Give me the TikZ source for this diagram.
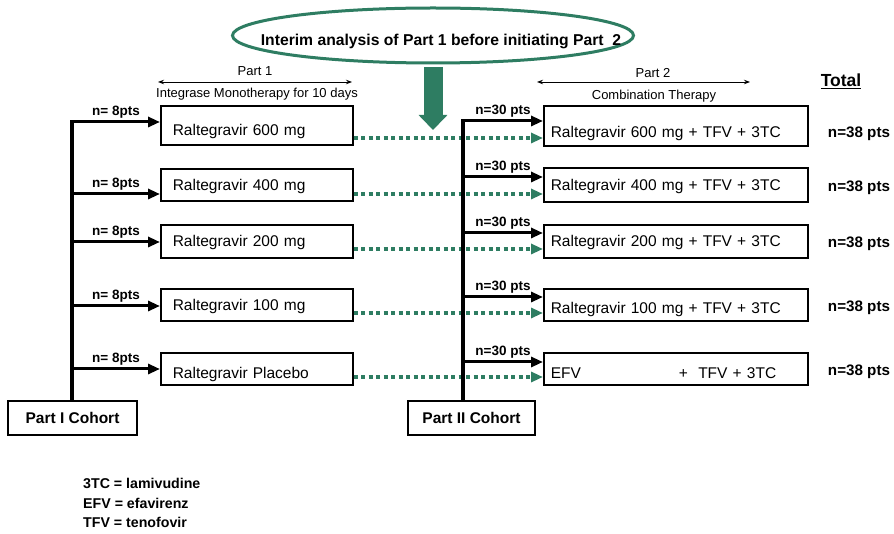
\documentclass[tikz,border=0pt]{standalone}
\usepackage{fontspec}
\setmainfont{Liberation Sans}
\usetikzlibrary{arrows.meta,shapes.geometric}
\definecolor{interimgreen}{RGB}{46,125,98}

\begin{document}
\begin{tikzpicture}
        [x=1pt,y=-1pt,
        boxdecorate/.style={draw,line width=1.5pt,anchor=base west,inner ysep=0pt,align=left,font=\fontsize{15.5}{18}\selectfont},
        leftbox/.style={boxdecorate,inner xsep=12pt,text width=168pt},
        rightbox/.style={boxdecorate,inner xsep=7pt,text width=250pt},
        cohortdecorate/.style={draw,line width=1.5pt,minimum width=129pt,minimum height=34pt,font=\bfseries\fontsize{15.5}{18}\selectfont},
        armdecorate/.style={-{Triangle[length=12pt,width=10pt]},line width=3pt},
        dotdecorate/.style={-{Triangle[length=12pt,width=10pt]},line width=3.5pt,interimgreen,dash pattern=on 4pt off 3.5pt},
        trunkdecorate/.style={line width=4pt},
        spandecorate/.style={{Stealth[length=6pt,width=4.5pt]}-{Stealth[length=6pt,width=4.5pt]},line width=0.9pt},
        countdecorate/.style={font=\bfseries\fontsize{13.5}{16}\selectfont,inner sep=0pt,above=2.5pt},
        headdecorate/.style={font=\fontsize{13}{15}\selectfont}]
        \useasboundingbox (0,0) rectangle (894,534);
        %% interim analysis
        \node (interim) at (433,35.5) [ellipse,draw=interimgreen,line width=3pt,minimum width=401pt,minimum height=55pt,
          inner xsep=-55pt,text height=24pt,text depth=3.5pt,font=\bfseries\fontsize{15.7}{19}\selectfont]
          {\hspace*{16pt}Interim analysis of Part 1 before initiating Part\ \ 2};
        \coordinate (droplevel) at (0,130);
        \draw[interimgreen,line width=19pt,-{Triangle[length=15pt,width=28pt]}]
          ([yshift=-2.5pt]interim.south) -- (interim.south |- droplevel);

        %% headings
        \coordinate (spanIa) at (158,82);
        \coordinate (spanIb) at (352,82);
        \coordinate (spanIIa) at (537,82);
        \coordinate (spanIIb) at (750,82);
        \draw[spandecorate] (spanIa) -- (spanIb);
        \draw[spandecorate] (spanIIa) -- (spanIIb);
        \node (part1) at (255,71) [headdecorate] {Part 1};
        \node (mono) at (257,94) [headdecorate] {Integrase Monotherapy for 10 days};
        \node (part2) at (653,73) [headdecorate] {Part 2};
        \node (combo) at (654,96) [headdecorate] {Combination Therapy};
        \node (total) at (841,87) [anchor=base,font=\bfseries\fontsize{17.5}{20}\selectfont] {\underline{Total}};

        %% cohorts
        \node (cohortI) at (72.5,418) [cohortdecorate] {Part I Cohort};
        \node (cohortII) at (471.5,418) [cohortdecorate,minimum width=127pt] {Part II Cohort};
        \coordinate (trunkI) at (72,120.5);
        \coordinate (trunkII) at (463,119.5);

        %% part 1 arms
        \foreach \i/\yb/\tht/\tdp/\ya/\drug in {1/136/30/9/122/Raltegravir 600 mg,
          2/191/22/10/194/Raltegravir 400 mg, 3/247/22/11/242/Raltegravir 200 mg,
          4/311/22/10/306/Raltegravir 100 mg, 5/378/25/7/369/Raltegravir Placebo}
        {
          \node (lbox\i) at (160,\yb) [leftbox,text height=\tht pt,text depth=\tdp pt] {\drug};
          \coordinate (larm\i) at (0,\ya);
          \draw[armdecorate] (trunkI |- larm\i) -- (lbox\i.west |- larm\i) node[midway,countdecorate] {n= 8pts};
        }

        %% part 2 arms
        \foreach \i/\yb/\tht/\tdp/\ya/\yd/\yt/\drug in {1/138/32/8/121/138/137.5/Raltegravir 600 mg + TFV + 3TC,
          2/191/23/11/177/194/191.5/Raltegravir 400 mg + TFV + 3TC,
          3/247/22/11/233/249/247.5/Raltegravir 200 mg + TFV + 3TC,
          4/314/25/7/297/313/311.5/Raltegravir 100 mg + TFV + 3TC,
          5/378/25/7/362/377/375.5/EFV\hspace{98pt}+\ \ TFV + 3TC}
        {
          \node (rbox\i) at (543,\yb) [rightbox,text height=\tht pt,text depth=\tdp pt] {\drug};
          \coordinate (rarm\i) at (0,\ya);
          \coordinate (link\i) at (0,\yd);
          \draw[armdecorate] (trunkII |- rarm\i) -- (rbox\i.west |- rarm\i) node[midway,countdecorate] {n=30 pts};
          \draw[dotdecorate] (lbox\i.east |- link\i) -- (rbox\i.west |- link\i);
          \node (total\i) at (859,\yt) [anchor=base,font=\bfseries\fontsize{15.2}{18}\selectfont] {n=38 pts};
        }

        %% trunks
        \draw[trunkdecorate] (trunkI) -- (trunkI |- cohortI.north);
        \draw[trunkdecorate] (trunkII) -- (trunkII |- cohortII.north);

        %% legend
        \foreach \k/\yk/\entry in {1/483/3TC = lamivudine, 2/503/EFV = efavirenz, 3/522/TFV = tenofovir}
        {
          \node (legend\k) at (83,\yk) [anchor=west,inner sep=0pt,font=\bfseries\fontsize{14.2}{17}\selectfont] {\entry};
        }
      \end{tikzpicture}
\end{document}
